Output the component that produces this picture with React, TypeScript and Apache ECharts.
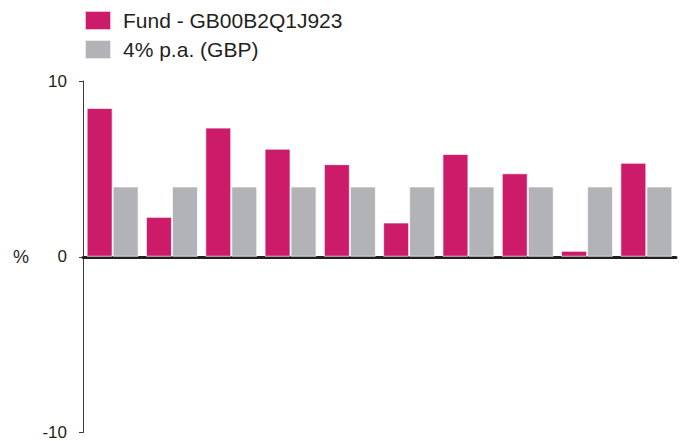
import React, { useEffect, useRef } from "react";
import * as echarts from "echarts";

const categories = ["1", "2", "3", "4", "5", "6", "7", "8", "9", "10"];
const fundValues = [8.47, 2.27, 7.35, 6.15, 5.27, 1.95, 5.85, 4.75, 0.34, 5.35];
const benchmarkValues = [4, 4, 4, 4, 4, 4, 4, 4, 4, 4];
const seriesNames = ["Fund - GB00B2Q1J923", "4% p.a. (GBP)"];
const yTicks = { min: -10, max: 10, interval: 10 };

export default function App() {
  const ref = useRef<HTMLDivElement>(null);
  useEffect(() => {
    if (!ref.current) return;
    const chart = echarts.init(ref.current, undefined, { renderer: "svg" });
    const font = "Liberation Sans, Arial, sans-serif";
    chart.setOption({
      animation: false,
      textStyle: { fontFamily: font },
      legend: {
        orient: "vertical",
        left: 84,
        top: 10,
        padding: 0,
        itemWidth: 26,
        itemHeight: 19,
        itemGap: 8,
        icon: "rect",
        textStyle: { fontSize: 21, color: "#231f20", fontFamily: font, lineHeight: 19, padding: [0, 0, 0, 7] },
        data: seriesNames,
      },
      grid: { left: 83, right: 6, top: 81, bottom: 8, containLabel: false },
      xAxis: {
        type: "category",
        data: categories,
        axisLine: { onZero: true, lineStyle: { color: "#231f20", width: 3 } },
        axisTick: { show: false },
        axisLabel: { show: false },
        splitLine: { show: false },
      },
      yAxis: {
        type: "value",
        min: yTicks.min,
        max: yTicks.max,
        interval: yTicks.interval,
        axisLine: { show: true, lineStyle: { color: "#3a3a3a", width: 1 } },
        axisTick: { show: true, length: 4, lineStyle: { color: "#3a3a3a" } },
        axisLabel: { fontSize: 17, color: "#231f20", margin: 16, fontFamily: font },
        splitLine: { show: false },
      },
      graphic: [
        {
          type: "text",
          left: 13,
          top: 248,
          style: { text: "%", fontSize: 18, fill: "#231f20", fontFamily: font },
        },
      ],
      series: [
        {
          name: seriesNames[0],
          type: "bar",
          data: fundValues,
          barWidth: 26,
          barGap: "0%",
          itemStyle: { color: "#cc1c69", borderColor: "rgba(255,255,255,0.7)", borderWidth: 1 },
        },
        {
          name: seriesNames[1],
          type: "bar",
          data: benchmarkValues,
          barWidth: 26,
          barGap: "0%",
          itemStyle: { color: "#b2b3b7", borderColor: "rgba(255,255,255,0.7)", borderWidth: 1 },
        },
      ],
    });
    return () => chart.dispose();
  }, []);
  return <div ref={ref} style={{ width: 682, height: 441, position: "absolute", left: 0, top: 0 }} />;
}
